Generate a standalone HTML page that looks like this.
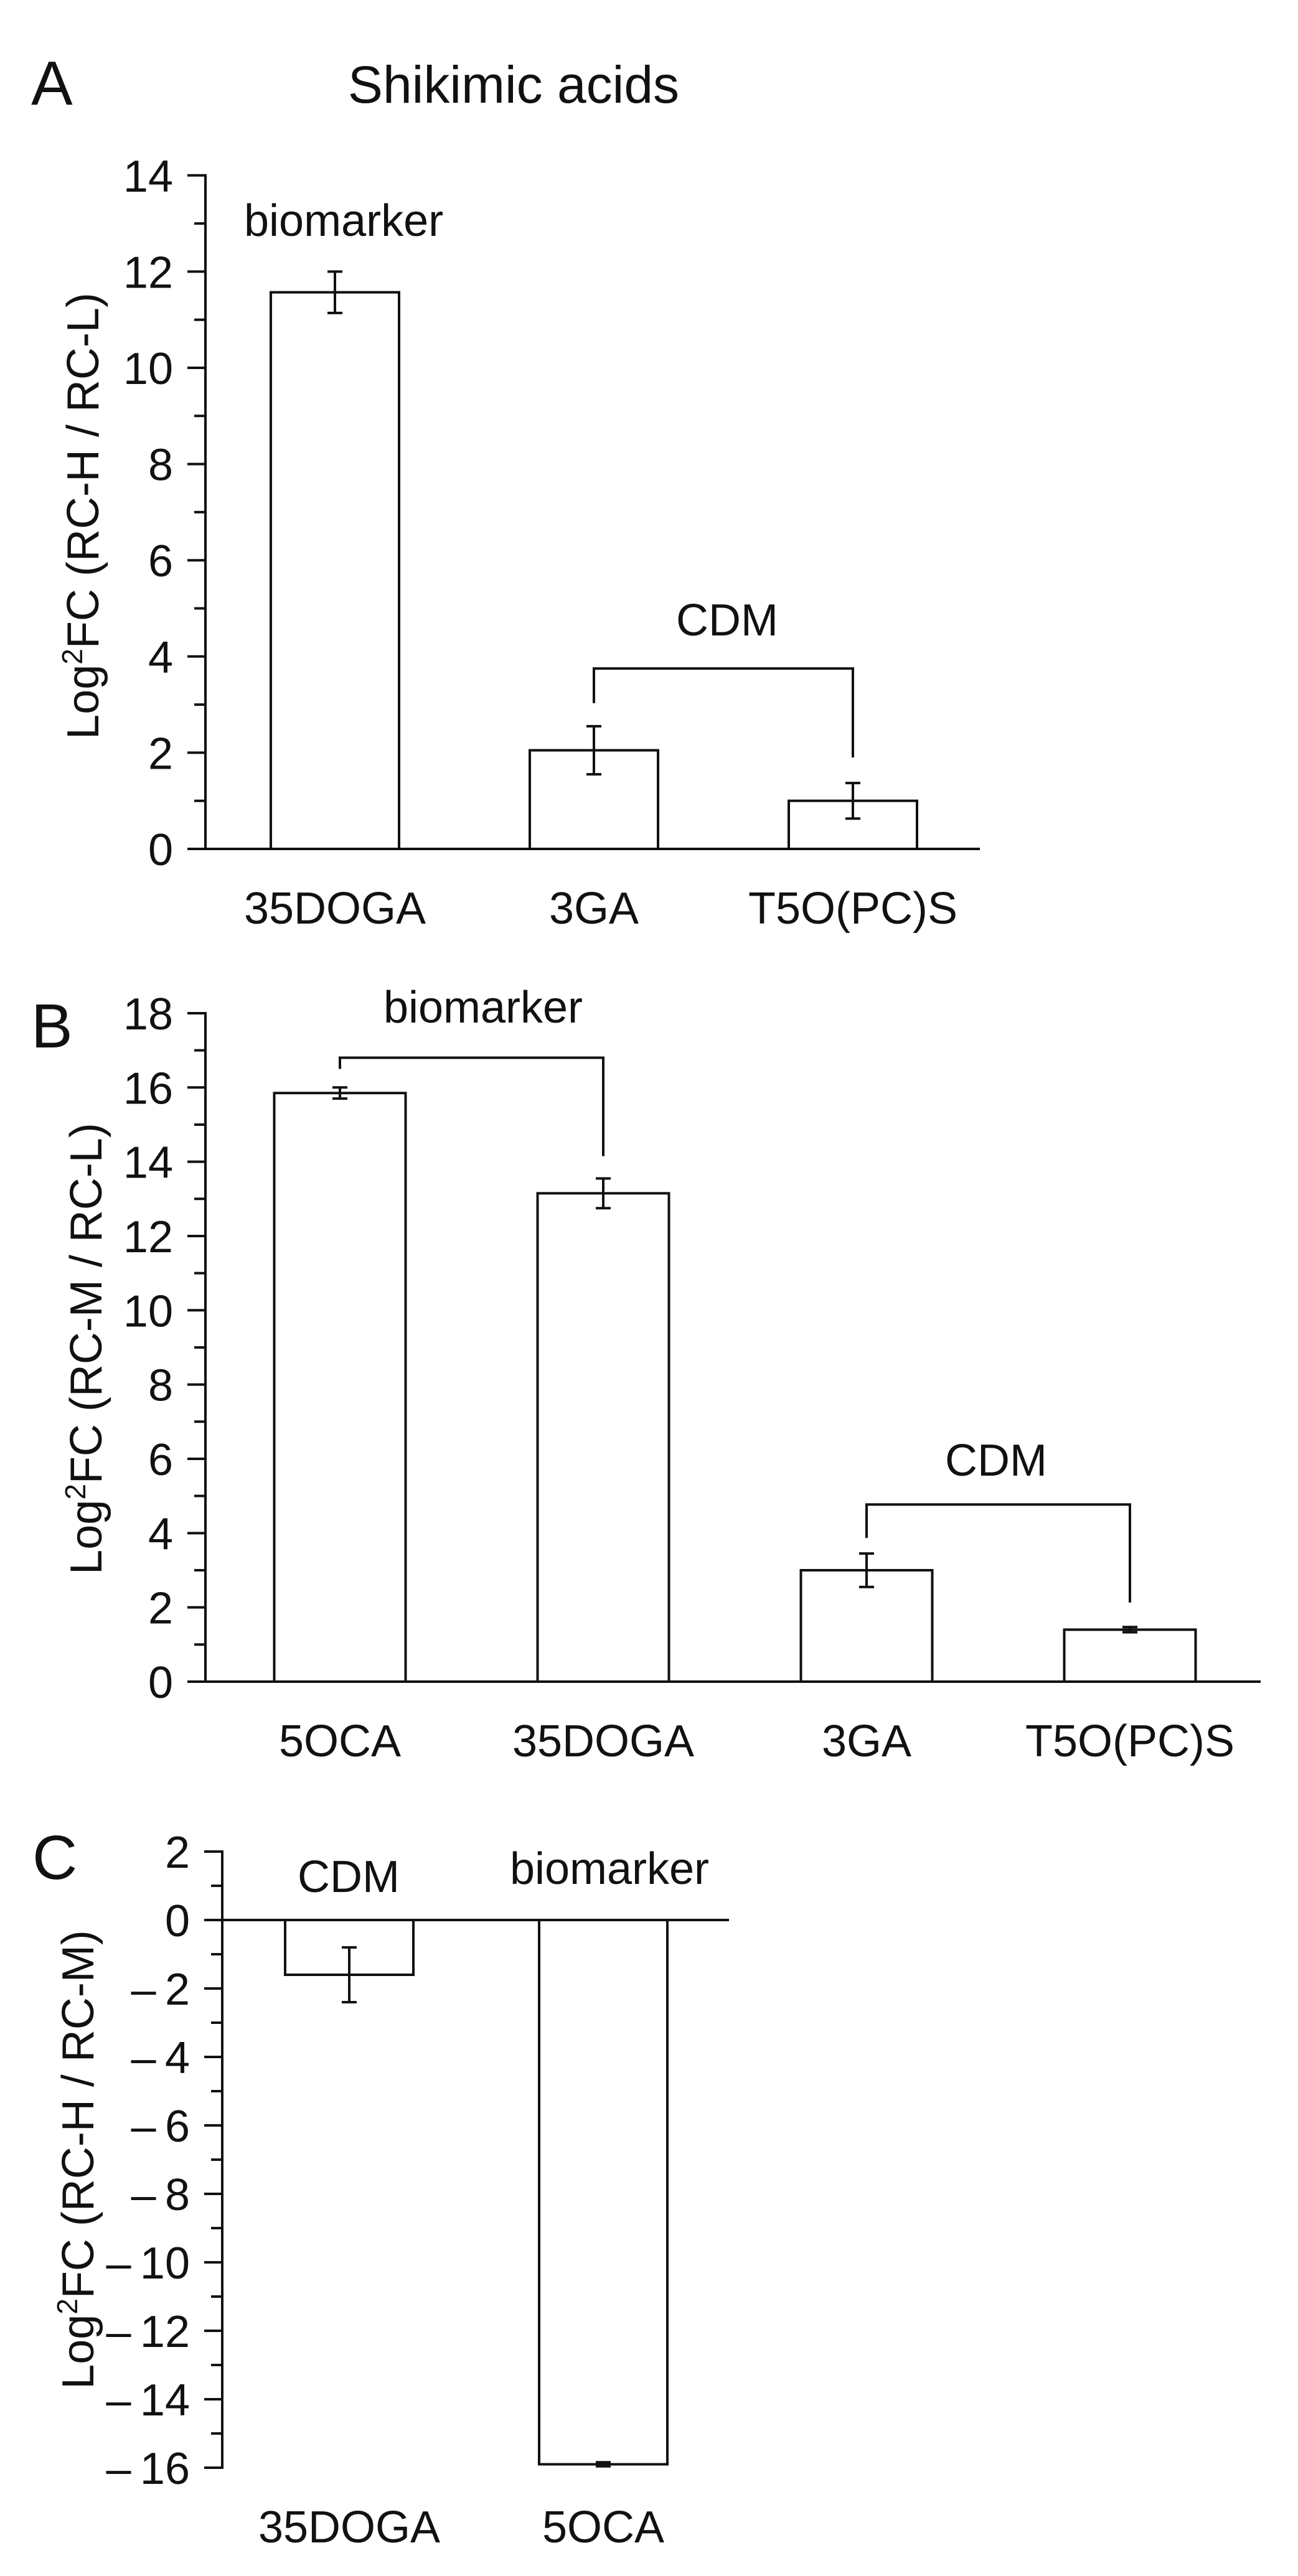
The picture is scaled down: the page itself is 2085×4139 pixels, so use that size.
<!DOCTYPE html>
<html><head><meta charset="utf-8">
<style>
html,body{margin:0;padding:0;background:#fff;}
svg{display:block;}
text{font-family:"Liberation Sans",Arial,sans-serif;fill:#111;}
</style></head>
<body>
<svg id="fig" width="2085" height="4139" viewBox="0 0 2085 4139" xmlns="http://www.w3.org/2000/svg">
<rect x="0" y="0" width="2085" height="4139" fill="#fff"/>
<text x="50" y="168" font-size="100">A</text>
<text x="825" y="165" font-size="84" text-anchor="middle">Shikimic acids</text>
<text x="50" y="1683" font-size="100">B</text>
<text x="52" y="3019" font-size="100">C</text>
</svg>
<script>
// Panel A data
const catsA = ["35DOGA", "3GA", "T5O(PC)S"];
const valsA = [11.57, 2.05, 1.0];
const errsA = [0.43, 0.5, 0.37];
const ticksA = [0, 2, 4, 6, 8, 10, 12, 14];
const tickLabelsA = ["0", "2", "4", "6", "8", "10", "12", "14"];
// Panel B data
const catsB = ["5OCA", "35DOGA", "3GA", "T5O(PC)S"];
const valsB = [15.85, 13.15, 3.0, 1.4];
const errsB = [0.15, 0.4, 0.45, 0.07];
const ticksB = [0, 2, 4, 6, 8, 10, 12, 14, 16, 18];
const tickLabelsB = ["0", "2", "4", "6", "8", "10", "12", "14", "16", "18"];
// Panel C data
const catsC = ["35DOGA", "5OCA"];
const valsC = [-1.6, -15.9];
const errsC = [0.8, 0.06];
const ticksC = [2, 0, -2, -4, -6, -8, -10, -12, -14, -16];
const tickLabelsC = ["2", "0", "–\u20092", "–\u20094", "–\u20096", "–\u20098", "–\u200910", "–\u200912", "–\u200914", "–\u200916"];

const NS = "http://www.w3.org/2000/svg";
const svg = document.getElementById("fig");
function mk(tag, attrs, parent) {
  const e = document.createElementNS(NS, tag);
  for (const k in attrs) e.setAttribute(k, attrs[k]);
  (parent || svg).appendChild(e);
  return e;
}
const LW = 4;

function panel(cfg) {
  const g = mk("g", {});
  
  
  const y = v => cfg.y0 - (v) * cfg.unit;
  const x = i => cfg.x0 + i * cfg.step;
  const ax = mk("line", {x1: cfg.axisX, x2: cfg.axisX, y1: y(cfg.ymax) - 2, y2: y(cfg.ymin) + 2, stroke: "#111", "stroke-width": LW}, g);
  
  
  for (let v = cfg.ymin; v <= cfg.ymax; v++) {
    const major = cfg.ticks.indexOf(v) >= 0;
    const t = mk("line", {x1: cfg.axisX - (major ? 29 : 18), x2: cfg.axisX, y1: y(v), y2: y(v), stroke: "#111", "stroke-width": LW}, g);
    
    
  }
  cfg.ticks.forEach((v, i) => {
    const t = mk("text", {x: cfg.axisX - 52, y: y(v) + 26, "font-size": 72, "text-anchor": "end"}, g);
    t.textContent = cfg.tickLabels[i];
    
    
  });
  const bl = mk("line", {x1: cfg.axisX - 29, x2: cfg.axisEnd, y1: y(0), y2: y(0), stroke: "#111", "stroke-width": LW}, g);
  
  
  cfg.vals.forEach((v, i) => {
    const cx = x(i), w = cfg.bw;
    const top = Math.min(y(v), y(0)), h = Math.abs(y(v) - y(0));
    const b = mk("rect", {x: cx - w / 2, y: top, width: w, height: h, fill: "#fff", stroke: "#111", "stroke-width": LW}, g);
    
    
    const e = cfg.errs[i];
    const eg = mk("path", {d: `M${cx},${y(v + e)}V${y(v - e)}M${cx - 12},${y(v + e)}H${cx + 12}M${cx - 12},${y(v - e)}H${cx + 12}`, stroke: "#111", "stroke-width": LW, fill: "none"}, g);
    
    
    const t = mk("text", {x: cx, y: cfg.labelY, "font-size": 72, "text-anchor": "middle"}, g);
    t.textContent = cfg.cats[i];
    
    
  });
  const yt = mk("text", {x: 0, y: 0, "font-size": 72, "text-anchor": "middle", transform: `translate(${cfg.titleX},${cfg.titleY}) rotate(-90)`}, g);
  
  
  const s1 = mk("tspan", {}, yt); s1.textContent = "Log";
  const s2 = mk("tspan", {"font-size": 46, dy: -26}, yt); s2.textContent = "2";
  const s3 = mk("tspan", {dy: 26}, yt); s3.textContent = cfg.titleRest;
  (cfg.brackets || []).forEach(br => {
    const p = mk("path", {d: `M${x(br.i)},${y(br.l)}V${y(br.top)}H${x(br.j)}V${y(br.r)}`, stroke: "#111", "stroke-width": LW, fill: "none"}, g);
    
    
  });
  (cfg.notes || []).forEach(n => {
    const t = mk("text", {x: n.x, y: n.y, "font-size": 72, "text-anchor": n.anchor || "middle"}, g);
    t.textContent = n.text;
    
    
  });
}

panel({name: "panel-a", cats: catsA, vals: valsA, errs: errsA, ticks: ticksA, tickLabels: tickLabelsA,
  ymin: 0, ymax: 14, y0: 1364, unit: 77.3, axisX: 330, axisEnd: 1574, x0: 538, step: 416, bw: 206,
  labelY: 1484, titleX: 158, titleY: 829, titleRest: "FC (RC-H / RC-L)",
  brackets: [{i: 1, j: 2, top: 3.75, l: 3.03, r: 1.9, label: "CDM"}],
  notes: [{text: "biomarker", x: 392, y: 379, anchor: "start", name: "biomarker-annotation"},
          {text: "CDM", x: 1168, y: 1021, name: "cdm-annotation"}]});

panel({name: "panel-b", cats: catsB, vals: valsB, errs: errsB, ticks: ticksB, tickLabels: tickLabelsB,
  ymin: 0, ymax: 18, y0: 2702, unit: 59.67, axisX: 330, axisEnd: 2025, x0: 546, step: 423, bw: 211,
  labelY: 2822, titleX: 163, titleY: 2167, titleRest: "FC (RC-M / RC-L)",
  brackets: [{i: 0, j: 1, top: 16.8, l: 16.5, r: 14.15, label: "biomarker"},
             {i: 2, j: 3, top: 4.77, l: 3.87, r: 2.13, label: "CDM"}],
  notes: [{text: "biomarker", x: 776, y: 1643, name: "biomarker-annotation"},
          {text: "CDM", x: 1600, y: 2371, name: "cdm-annotation"}]});

panel({name: "panel-c", cats: catsC, vals: valsC, errs: errsC, ticks: ticksC, tickLabels: tickLabelsC,
  ymin: -16, ymax: 2, y0: 3085, unit: 55, axisX: 357, axisEnd: 1171, x0: 561, step: 408, bw: 206,
  labelY: 4085, titleX: 150, titleY: 3470, titleRest: "FC (RC-H / RC-M)",
  notes: [{text: "CDM", x: 560, y: 3040, name: "cdm-annotation"},
          {text: "biomarker", x: 979, y: 3027, name: "biomarker-annotation"}]});
</script>
</body></html>
